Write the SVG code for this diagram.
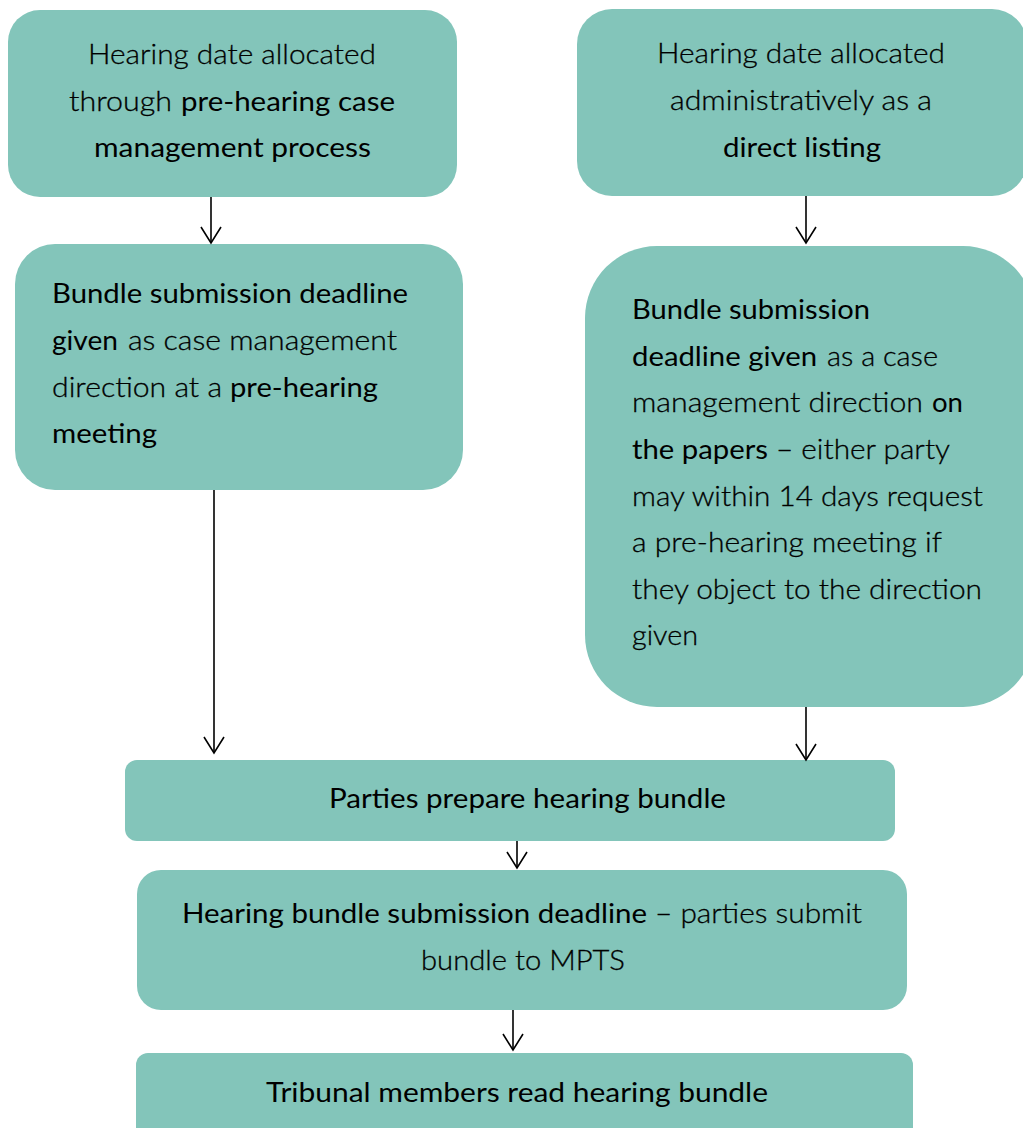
<svg xmlns="http://www.w3.org/2000/svg" width="1023" height="1128" viewBox="0 0 1023 1128">
<defs>
<style>
.box{fill:#83C5BA;}
text{font-family:Lato,"Open Sans","Liberation Sans",sans-serif;font-size:27px;fill:#000;}
.l{font-weight:300;stroke:#000;stroke-width:0.3;}
.r{font-weight:400;}
.con path{fill:none;stroke:#000;stroke-width:1.6;}
</style>
<marker id="ah" viewBox="-18 -12 20 24" refX="0" refY="0" markerWidth="20" markerHeight="24" markerUnits="userSpaceOnUse" orient="auto" overflow="visible">
<path d="M-16,-10 L0,0 L-16,10" fill="none" stroke="#000" stroke-width="1.6"/>
</marker>
</defs>
<rect width="1023" height="1128" fill="#fff"/>
<g id="n1">
<rect class="box" x="8" y="10" width="449" height="187" rx="32"/>
<text class="l" x="88" y="64" textLength="288" lengthAdjust="spacingAndGlyphs">Hearing date allocated</text>
<text class="l" x="69" y="111" textLength="103" lengthAdjust="spacingAndGlyphs">through</text>
<text class="r" x="181" y="111" textLength="214" lengthAdjust="spacingAndGlyphs">pre-hearing case</text>
<text class="r" x="94" y="157" textLength="277" lengthAdjust="spacingAndGlyphs">management process</text>
</g>
<g id="n2">
<rect class="box" x="577" y="9" width="450" height="187" rx="35"/>
<text class="l" x="657" y="63" textLength="288" lengthAdjust="spacingAndGlyphs">Hearing date allocated</text>
<text class="l" x="670" y="110" textLength="262" lengthAdjust="spacingAndGlyphs">administratively as a</text>
<text class="r" x="723" y="157" textLength="158" lengthAdjust="spacingAndGlyphs">direct listing</text>
</g>
<g id="n3">
<rect class="box" x="15" y="244" width="448" height="246" rx="40"/>
<text class="r" x="52" y="303" textLength="356" lengthAdjust="spacingAndGlyphs">Bundle submission deadline</text>
<text class="r" x="52" y="350" textLength="66" lengthAdjust="spacingAndGlyphs">given</text>
<text class="l" x="128" y="350" textLength="269" lengthAdjust="spacingAndGlyphs">as case management</text>
<text class="l" x="52" y="397" textLength="170" lengthAdjust="spacingAndGlyphs">direction at a</text>
<text class="r" x="230" y="397" textLength="148" lengthAdjust="spacingAndGlyphs">pre-hearing</text>
<text class="r" x="52" y="443" textLength="105" lengthAdjust="spacingAndGlyphs">meeting</text>
</g>
<g id="n4">
<rect class="box" x="585" y="246" width="450" height="461" rx="72"/>
<text class="r" x="632" y="319" textLength="238" lengthAdjust="spacingAndGlyphs">Bundle submission</text>
<text class="r" x="632" y="366" textLength="185" lengthAdjust="spacingAndGlyphs">deadline given</text>
<text class="l" x="827" y="366" textLength="111" lengthAdjust="spacingAndGlyphs">as a case</text>
<text class="l" x="632" y="412" textLength="291" lengthAdjust="spacingAndGlyphs">management direction</text>
<text class="r" x="932" y="412" textLength="31" lengthAdjust="spacingAndGlyphs">on</text>
<text class="r" x="632" y="459" textLength="136" lengthAdjust="spacingAndGlyphs">the papers</text>
<text class="l" x="776" y="459" textLength="174" lengthAdjust="spacingAndGlyphs">– either party</text>
<text class="l" x="632" y="506" textLength="351" lengthAdjust="spacingAndGlyphs">may within 14 days request</text>
<text class="l" x="632" y="552" textLength="310" lengthAdjust="spacingAndGlyphs">a pre-hearing meeting if</text>
<text class="l" x="632" y="599" textLength="350" lengthAdjust="spacingAndGlyphs">they object to the direction</text>
<text class="l" x="632" y="645" textLength="66" lengthAdjust="spacingAndGlyphs">given</text>
</g>
<g id="n5">
<rect class="box" x="125" y="760" width="770" height="81" rx="12"/>
<text class="r" x="329" y="808" textLength="397" lengthAdjust="spacingAndGlyphs">Parties prepare hearing bundle</text>
</g>
<g id="n6">
<rect class="box" x="137" y="870" width="770" height="140" rx="24"/>
<text class="r" x="182" y="923" textLength="465" lengthAdjust="spacingAndGlyphs">Hearing bundle submission deadline</text>
<text class="l" x="655" y="923" textLength="207" lengthAdjust="spacingAndGlyphs">– parties submit</text>
<text class="l" x="421" y="970" textLength="204" lengthAdjust="spacingAndGlyphs">bundle to MPTS</text>
</g>
<g id="n7">
<rect class="box" x="136" y="1053" width="777" height="100" rx="12"/>
<text class="r" x="266" y="1102" textLength="502" lengthAdjust="spacingAndGlyphs">Tribunal members read hearing bundle</text>
</g>
<g id="connectors" class="con">
<path d="M211,197 V243" marker-end="url(#ah)"/>
<path d="M806,196 V243" marker-end="url(#ah)"/>
<path d="M214,490 V753" marker-end="url(#ah)"/>
<path d="M806,707 V760" marker-end="url(#ah)"/>
<path d="M517,841 V868" marker-end="url(#ah)"/>
<path d="M513,1010 V1050" marker-end="url(#ah)"/>
</g>
</svg>
